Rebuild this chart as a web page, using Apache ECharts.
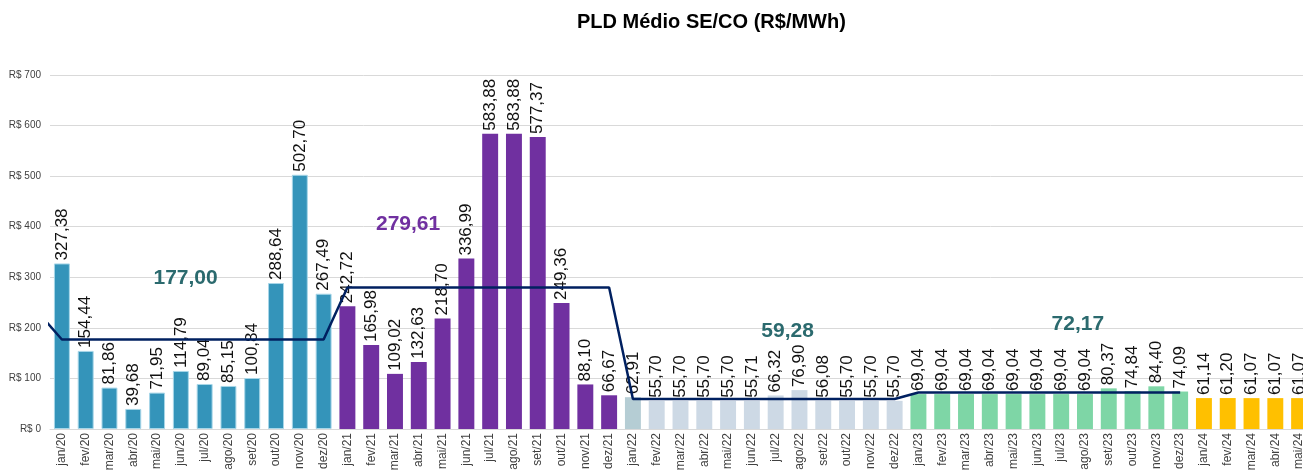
<!DOCTYPE html>
<html>
<head>
<meta charset="utf-8">
<script src="https://cdn.jsdelivr.net/npm/echarts@6/dist/echarts.min.js"></script>
<style>
html,body{margin:0;padding:0;background:#fff;}
#chart{width:1303px;height:471px;}
</style>
</head>
<body>
<div id="chart"></div>
<script>
// ---- data ----
const months = ['jan','fev','mar','abr','mai','jun','jul','ago','set','out','nov','dez'];
const years = ['20','21','22','23','24'];
const categories = [];
years.forEach(y => months.forEach(m => categories.push(m + '/' + y)));
categories.length = 53; // jan/20 .. mai/24

const values2020 = [327.38,154.44,81.86,39.68,71.95,114.79,89.04,85.15,100.84,288.64,502.70,267.49];
const values2021 = [242.72,165.98,109.02,132.63,218.70,336.99,583.88,583.88,577.37,249.36,88.10,66.67];
const values2022 = [62.91,55.70,55.70,55.70,55.70,55.71,66.32,76.90,56.08,55.70,55.70,55.70];
const values2023 = [69.04,69.04,69.04,69.04,69.04,69.04,69.04,69.04,80.37,74.84,84.40,74.09];
const values2024 = [61.14,61.20,61.07,61.07,61.07];

// yearly averages (2019 value only to draw the incoming segment)
const avgYears = [2019, 2020, 2021, 2022, 2023];
const avgValues = [231, 177.00, 279.61, 59.28, 72.17];
const avgLabels = ['177,00', '279,61', '59,28', '72,17'];
// annotation anchors (category index, value) for the average labels
const annotCat = [5.2, 14.55, 30.5, 42.7];
const annotVal = [298, 405, 194, 208];

// ---- styles ----
const yearColors = ['#3494BA', '#7030A0', '#CDD9E5', '#7ED6A6', '#FFC000'];
const annotColors = ['#2B6A6E', '#7030A0', '#2B6A6E', '#2B6A6E'];

const allValues = [].concat(values2020, values2021, values2022, values2023, values2024);
const barData = allValues.map((v, i) => {
  const yi = Math.floor(i / 12);
  const item = { value: v, itemStyle: { color: yearColors[yi] } };
  if (i === 24) item.itemStyle.color = '#B5CDD4';
  if (yi === 0) { item.itemStyle.borderColor = '#A7D6E8'; item.itemStyle.borderWidth = 1; }
  return item;
});

const lineData = [];
avgYears.forEach((y, k) => {
  const start = (y - 2020) * 12;
  if (y < 2020) { lineData.push([start + 11, avgValues[k]]); }
  else { lineData.push([start, avgValues[k]]); lineData.push([start + 11, avgValues[k]]); }
});

const annotData = avgLabels.map((t, k) => ({
  value: [annotCat[k], annotVal[k]], name: t,
  label: { color: annotColors[k] }
}));

const fmt = v => v.toFixed(2).replace('.', ',');

const chart = echarts.init(document.getElementById('chart'), null, { renderer: 'canvas' });
chart.setOption({
  animation: false,
  backgroundColor: '#ffffff',
  title: {
    text: 'PLD Médio SE/CO (R$/MWh)',
    left: 572, top: 7,
    textStyle: { fontFamily: 'Liberation Sans', fontWeight: 'bold', fontSize: 20, color: '#000000' }
  },
  grid: { left: 50, top: 75, width: 1261, height: 354, containLabel: false, outerBoundsMode: 'none' },
  xAxis: [
    {
      type: 'category', data: categories,
      axisLine: { lineStyle: { color: '#D9D9D9', width: 1 } },
      axisTick: { show: false },
      axisLabel: { rotate: 90, interval: 0, fontFamily: 'Liberation Sans', fontSize: 12, color: '#404040', margin: 4 }
    },
    { type: 'value', min: -0.5, max: 52.5, show: false }
  ],
  yAxis: {
    type: 'value', min: 0, max: 700, interval: 100,
    axisLine: { show: false }, axisTick: { show: false },
    splitLine: { lineStyle: { color: '#D9D9D9', width: 1 } },
    axisLabel: { formatter: v => 'R$ ' + v, fontFamily: 'Liberation Sans', fontSize: 10, color: '#404040', margin: 9 }
  },
  series: [
    {
      type: 'bar', data: barData, xAxisIndex: 0, barWidth: '67%',
      label: {
        show: true, position: 'top', rotate: 90, align: 'left', verticalAlign: 'middle', distance: 3,
        fontFamily: 'Liberation Sans', fontSize: 17, color: '#111111',
        formatter: p => fmt(p.value)
      }
    },
    {
      type: 'line', data: lineData, xAxisIndex: 1, symbol: 'none', clip: true,
      lineStyle: { color: '#002060', width: 2.5 }, z: 5
    },
    {
      type: 'scatter', data: annotData, xAxisIndex: 1, symbolSize: 0,
      itemStyle: { opacity: 1 },
      label: {
        show: true, position: 'inside', formatter: p => p.name,
        fontFamily: 'Liberation Sans', fontWeight: 'bold', fontSize: 21,
        textBorderWidth: 0, opacity: 1
      }, z: 6
    }
  ]
});
</script>
</body>
</html>
